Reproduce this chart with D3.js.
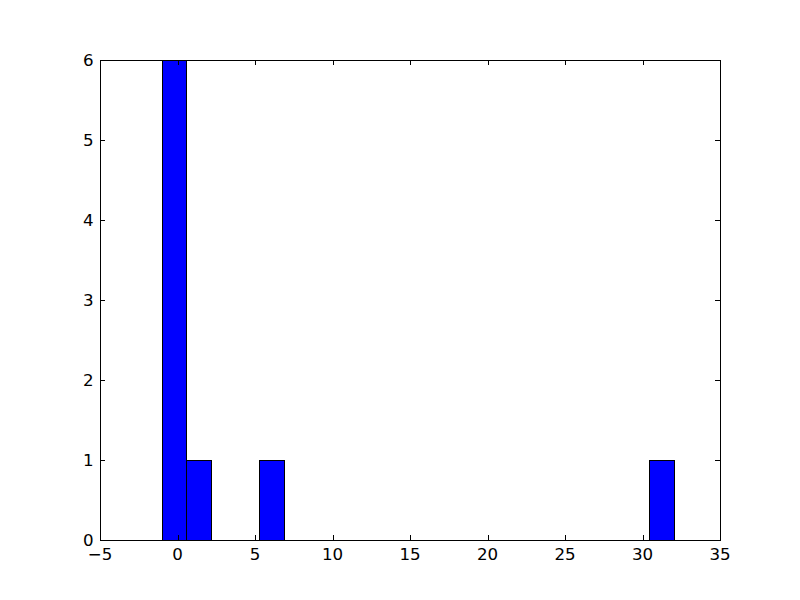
<!DOCTYPE html>
<html><head><meta charset="utf-8">
<script src="https://cdn.jsdelivr.net/npm/d3@7"></script>
<style>body{margin:0;background:#fff}text{font-family:"DejaVu Sans",sans-serif;font-size:16.67px;fill:#000}</style>
</head><body>
<svg id="c" width="800" height="600"></svg>
<script>
// raw sample values that were histogrammed
const values = [-1, 0, 0, 0, 0, 0, 1, 6, 31.5];
const binDomain = [-1, 32];
const binCount = 21;
const xTicks = [-5, 0, 5, 10, 15, 20, 25, 30, 35];
const yTicks = [0, 1, 2, 3, 4, 5, 6];

const W = 800, H = 600;
const m = {l: 100, r: 80, t: 60, b: 60};
const svg = d3.select("#c");
svg.append("rect").attr("width", W).attr("height", H).attr("fill", "#fff");

const x = d3.scaleLinear().domain([-5, 35]).range([m.l, W - m.r]);
const y = d3.scaleLinear().domain([0, 6]).range([H - m.b, m.t]);

const step = (binDomain[1] - binDomain[0]) / binCount;
const thresholds = d3.range(1, binCount).map(i => binDomain[0] + i * step);
const bins = d3.bin().domain(binDomain).thresholds(thresholds)(values);

const snap = v => Math.round(v) + 0.5;
svg.append("g").selectAll("rect").data(bins.filter(b => b.length > 0)).join("rect")
  .attr("x", d => snap(x(d.x0)))
  .attr("y", d => snap(y(d.length)))
  .attr("width", d => snap(x(d.x1)) - snap(x(d.x0)))
  .attr("height", d => snap(y(0)) - snap(y(d.length)))
  .attr("fill", "#0000ff").attr("stroke", "#000").attr("stroke-width", 1);

const fmt = d => d < 0 ? "\u2212" + Math.abs(d) : String(d);
const tl = 5;
const gx = svg.append("g");
xTicks.forEach(t => {
  const px = snap(x(t));
  gx.append("line").attr("x1", px).attr("x2", px).attr("y1", y(0)).attr("y2", y(0) - tl).attr("stroke", "#000");
  gx.append("line").attr("x1", px).attr("x2", px).attr("y1", y(6)).attr("y2", y(6) + tl).attr("stroke", "#000");
  gx.append("text").attr("x", x(t)).attr("y", y(0) + 20).attr("text-anchor", "middle").text(fmt(t));
});
const gy = svg.append("g");
yTicks.forEach(t => {
  const py = snap(y(t));
  gy.append("line").attr("x1", x(-5)).attr("x2", x(-5) + tl).attr("y1", py).attr("y2", py).attr("stroke", "#000");
  gy.append("line").attr("x1", x(35)).attr("x2", x(35) - tl).attr("y1", py).attr("y2", py).attr("stroke", "#000");
  gy.append("text").attr("x", x(-5) - 6.5).attr("y", y(t) + 6).attr("text-anchor", "end").text(fmt(t));
});
svg.append("rect").attr("x", m.l + 0.5).attr("y", m.t + 0.5).attr("width", W - m.l - m.r).attr("height", H - m.t - m.b)
  .attr("fill", "none").attr("stroke", "#000").attr("stroke-width", 1);
</script>
</body></html>
